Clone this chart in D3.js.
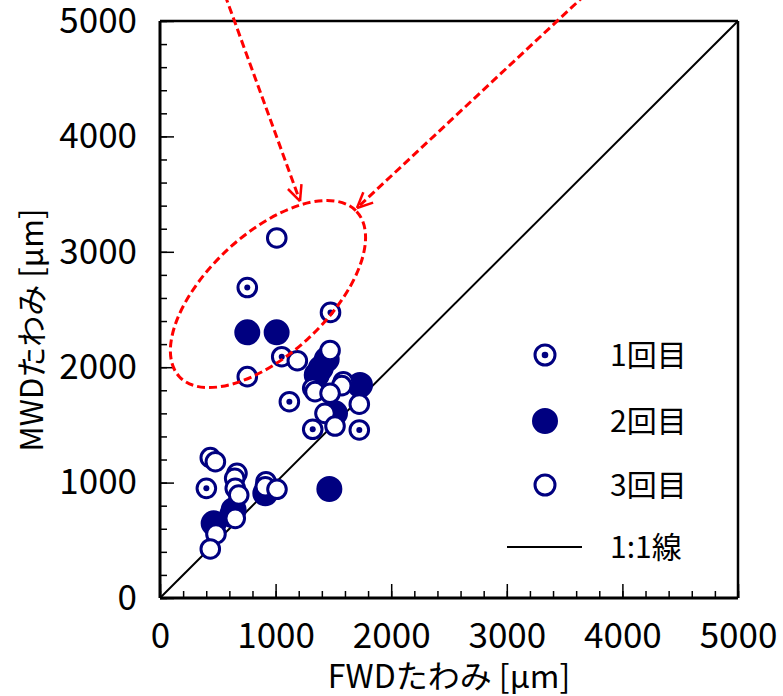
<!DOCTYPE html>
<html><head><meta charset="utf-8">
<script src="https://cdn.jsdelivr.net/npm/d3@7"></script>
<style>
html,body{margin:0;padding:0;background:#fff;}
svg{display:block;}
text{font-family:"Noto Sans CJK JP","Noto Sans",sans-serif;fill:#000;}
</style></head>
<body>
<svg id="chart" width="783" height="696"></svg>
<script>
// ---- data ----
const majorTicks = [0, 1000, 2000, 3000, 4000, 5000];
const tickLabels = ["0", "1000", "2000", "3000", "4000", "5000"];
const minorTicks = d3.range(0, 5001, 200);
const xTitle = "FWDたわみ [μm]";
const yTitle = "MWDたわみ [μm]";
const seriesNames = ["1回目", "2回目", "3回目", "1:1線"];
// [FWD, MWD] deflection (μm)
const series1 = [[755,2690],[1475,2475],[1053,2091],[1119,1701],[1321,1462],[1724,1456],[401,950]];
const series2 = [[755,2302],[1009,2302],[1442,2068],[1390,1990],[1356,1932],[1730,1846],[1514,1600],
                 [1465,945],[911,907],[637,763],[623,719],[464,647]];
const series3 = [[1010,3120],[1188,2056],[755,1918],[1471,2145],[1321,1817],[1341,1788],[1586,1874],
                 [1572,1840],[1724,1680],[1471,1774],[1427,1600],[1514,1490],[435,1216],[479,1181],
                 [666,1080],[646,1037],[651,950],[681,892],[917,1008],[911,964],[1012,942],
                 [651,690],[484,555],[435,425]];
const oneToOne = [[0,0],[5000,5000]];
// annotation (data units): ellipse centre, radii, tilt; arrows start -> tip
const ellipseAnn = {cx: 934, cy: 2634, rx: 1048, ry: 520, angle: 43};
const arrowsAnn = [[[562,5225],[1211,3440]], [[3676,5225],[1704,3380]]];

// ---- layout ----
const svg = d3.select("#chart");
const x = d3.scaleLinear().domain([0,5000]).range([160,738]);
const y = d3.scaleLinear().domain([0,5000]).range([598,21]);
const navy = "#000080";

// 1:1 line
svg.append("line")
  .attr("x1", x(oneToOne[0][0])).attr("y1", y(oneToOne[0][1]))
  .attr("x2", x(oneToOne[1][0])).attr("y2", y(oneToOne[1][1]))
  .attr("stroke","#000").attr("stroke-width",2);

// frame top/right
svg.append("line").attr("x1",x(0)).attr("x2",x(5000)).attr("y1",y(5000)).attr("y2",y(5000))
  .attr("stroke","#000").attr("stroke-width",2.5);
svg.append("line").attr("x1",x(5000)).attr("x2",x(5000)).attr("y1",y(5000)).attr("y2",y(0))
  .attr("stroke","#000").attr("stroke-width",2.5);

// axes: minor ticks
const fmt = (d) => tickLabels[majorTicks.indexOf(d)];
const gxMinor = svg.append("g").attr("transform",`translate(0,${y(0)})`)
  .call(d3.axisBottom(x).tickValues(minorTicks).tickSize(-7).tickFormat(""));
const gyMinor = svg.append("g").attr("transform",`translate(${x(0)},0)`)
  .call(d3.axisLeft(y).tickValues(minorTicks).tickSize(-7).tickFormat(""));
[gxMinor, gyMinor].forEach(g => {
  g.select(".domain").remove();
  g.selectAll("line").attr("stroke","#000").attr("stroke-width",1.5);
});
// major ticks + labels
const gx = svg.append("g").attr("transform",`translate(0,${y(0)})`)
  .call(d3.axisBottom(x).tickValues(majorTicks).tickSize(-14).tickPadding(25).tickFormat(fmt));
const gy = svg.append("g").attr("transform",`translate(${x(0)},0)`)
  .call(d3.axisLeft(y).tickValues(majorTicks).tickSize(-14).tickPadding(23).tickFormat(fmt));
[gx, gy].forEach(g => {
  g.select(".domain").attr("stroke","#000").attr("stroke-width",3);
  g.selectAll("line").attr("stroke","#000").attr("stroke-width",1.5);
  g.selectAll("text").attr("font-size",35).attr("font-family",'"Noto Sans CJK JP",sans-serif').attr("fill","#000");
});
gx.select(".domain").attr("d", `M${x(0)},0H${x(5000)}`);
gy.select(".domain").attr("d", `M0,${y(0)}V${y(5000)}`);

// axis titles
svg.append("text").attr("x", (x(0)+x(5000))/2).attr("y", 688)
  .attr("text-anchor","middle").attr("font-size",32).text(xTitle);
svg.append("text").attr("transform",`translate(43,330) rotate(-90)`)
  .attr("text-anchor","middle").attr("font-size",31).text(yTitle);

// series
const rOpen = 9.3, rFill = 11.5;
const g1 = svg.append("g");
series1.forEach(d => {
  g1.append("circle").attr("cx",x(d[0])).attr("cy",y(d[1])).attr("r",rOpen)
    .attr("fill","#fff").attr("stroke",navy).attr("stroke-width",3);
  g1.append("circle").attr("cx",x(d[0])).attr("cy",y(d[1])).attr("r",3).attr("fill",navy);
});
svg.append("g").selectAll("circle").data(series2).join("circle")
  .attr("cx",d=>x(d[0])).attr("cy",d=>y(d[1])).attr("r",rFill)
  .attr("fill",navy).attr("stroke",navy).attr("stroke-width",3);
svg.append("g").selectAll("circle").data(series3).join("circle")
  .attr("cx",d=>x(d[0])).attr("cy",d=>y(d[1])).attr("r",rOpen)
  .attr("fill","#fff").attr("stroke",navy).attr("stroke-width",3);

// legend
const legX = 545, legRows = [355, 421, 485, 547], legTextX = 610;
const lg = svg.append("g");
lg.append("circle").attr("cx",legX).attr("cy",legRows[0]).attr("r",10)
  .attr("fill","#fff").attr("stroke",navy).attr("stroke-width",3);
lg.append("circle").attr("cx",legX).attr("cy",legRows[0]).attr("r",3.3).attr("fill",navy);
lg.append("circle").attr("cx",legX).attr("cy",legRows[1]).attr("r",11.5)
  .attr("fill",navy).attr("stroke",navy).attr("stroke-width",3);
lg.append("circle").attr("cx",legX).attr("cy",legRows[2]).attr("r",10)
  .attr("fill","#fff").attr("stroke",navy).attr("stroke-width",3);
lg.append("line").attr("x1",507).attr("x2",582).attr("y1",legRows[3]).attr("y2",legRows[3])
  .attr("stroke","#000").attr("stroke-width",2);
seriesNames.forEach((s,i) => {
  lg.append("text").attr("x",legTextX).attr("y",legRows[i]).attr("dy","0.36em")
    .attr("font-size",30).text(s);
});

// annotation: dashed ellipse
const red = "#ff0000";
const ecx = x(ellipseAnn.cx), ecy = y(ellipseAnn.cy);
svg.append("ellipse").attr("cx",ecx).attr("cy",ecy)
  .attr("rx", x(ellipseAnn.rx)-x(0)).attr("ry", y(0)-y(ellipseAnn.ry))
  .attr("transform",`rotate(${-ellipseAnn.angle},${ecx},${ecy})`)
  .attr("fill","none").attr("stroke",red).attr("stroke-width",3).attr("stroke-dasharray","8,4");
// arrows
arrowsAnn.forEach(([s,t]) => {
  const x1 = x(s[0]), y1 = y(s[1]), x2 = x(t[0]), y2 = y(t[1]);
  svg.append("line").attr("x1",x1).attr("y1",y1).attr("x2",x2).attr("y2",y2)
    .attr("stroke",red).attr("stroke-width",3).attr("stroke-dasharray","8,4");
  const ang = Math.atan2(y2-y1, x2-x1), L = 17, wa = 25*Math.PI/180;
  [ang+Math.PI-wa, ang+Math.PI+wa].forEach(a => {
    svg.append("line").attr("x1",x2).attr("y1",y2)
      .attr("x2",x2+L*Math.cos(a)).attr("y2",y2+L*Math.sin(a))
      .attr("stroke",red).attr("stroke-width",2.5);
  });
});
</script>
</body></html>
